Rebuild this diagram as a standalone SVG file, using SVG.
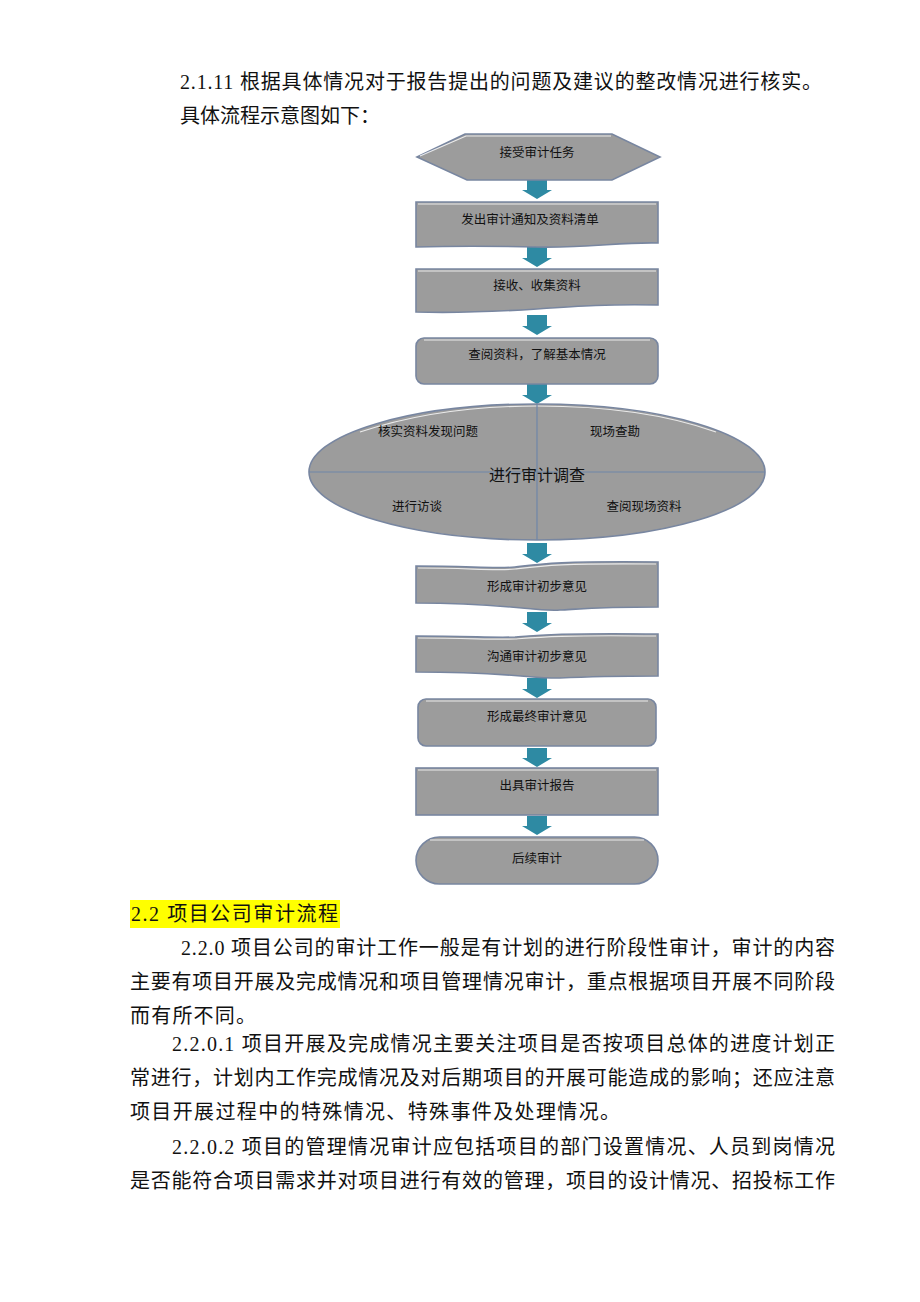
<svg xmlns="http://www.w3.org/2000/svg" width="920" height="1302" viewBox="0 0 920 1302">
<defs>
<style>
.body{font-family:"Liberation Serif","Noto Sans CJK SC",serif;font-size:20px;fill:#111}
.shape{fill:#9c9c9c;stroke:#7886a0;stroke-width:1.6}
.hl{fill:none;stroke:#ffffff;stroke-width:1.2;opacity:0.8}
.lbl{font-family:"Noto Sans CJK SC","Liberation Sans",sans-serif;font-size:12.5px;fill:#111;text-anchor:middle}
.big{font-family:"Noto Sans CJK SC","Liberation Sans",sans-serif;font-size:16px;fill:#111;text-anchor:middle}
.arrow{fill:#2e8aa3}
.axis{stroke:#6f86a8;stroke-width:1.2;fill:none}
</style>
</defs>
<rect width="920" height="1302" fill="#ffffff"/>

<g id="intro">
<text class="body" x="180" y="89" textLength="642" lengthAdjust="spacing">2.1.11 根据具体情况对于报告提出的问题及建议的整改情况进行核实。</text>
<text class="body" x="180" y="123">具体流程示意图如下：</text>
</g>

<g id="connectors">
<path class="arrow" d="M527,179 H547 V190 H552 L537,199 L522,190 H527 Z"/>
<path class="arrow" d="M527,247 H547 V258 H552 L537,267 L522,258 H527 Z"/>
<path class="arrow" d="M527,315 H547 V326 H552 L537,335 L522,326 H527 Z"/>
<path class="arrow" d="M527,384 H547 V395 H552 L537,404 L522,395 H527 Z"/>
<path class="arrow" d="M527,543 H547 V554 H552 L537,563 L522,554 H527 Z"/>
<path class="arrow" d="M527,612 H547 V623 H552 L537,632 L522,623 H527 Z"/>
<path class="arrow" d="M527,678 H547 V689 H552 L537,698 L522,689 H527 Z"/>
<path class="arrow" d="M527,748 H547 V758 H552 L537,767 L522,758 H527 Z"/>
<path class="arrow" d="M527,816 H547 V826 H552 L537,835 L522,826 H527 Z"/>
</g>

<g id="n1">
<path class="shape" d="M417,157 L465,134 H612 L660,157 L612,180 H467 Z"/>
<path class="hl" d="M420,156 L466,136 H611"/>
<text class="lbl" x="537" y="157">接受审计任务</text>
</g>

<g id="n2">
<path class="shape" d="M416,202 H658 V243 C620,242 590,248 537,247 C490,246 450,246 416,247 Z"/>
<path class="hl" d="M418,204 H656"/>
<text class="lbl" x="530" y="224">发出审计通知及资料清单</text>
</g>

<g id="n3">
<path class="shape" d="M416,269 H658 V305 C610,304 580,306 537,309 C490,312 450,313 416,312 Z"/>
<path class="hl" d="M418,271 H656"/>
<text class="lbl" x="537" y="290">接收、收集资料</text>
</g>

<g id="n4">
<rect class="shape" x="416" y="338" width="242" height="46" rx="8"/>
<path class="hl" d="M424,340 H650"/>
<text class="lbl" x="537" y="359">查阅资料，了解基本情况</text>
</g>

<g id="n5">
<ellipse class="shape" cx="537" cy="472" rx="228" ry="68"/>
<path class="hl" d="M360,432 C420,412 480,406 537,406 C600,406 660,412 716,432"/>
<line class="axis" x1="537" y1="404" x2="537" y2="540"/>
<line class="axis" x1="309" y1="472" x2="765" y2="472"/>
<text class="lbl" x="428" y="436">核实资料发现问题</text>
<text class="lbl" x="615" y="436">现场查勘</text>
<text class="big" x="537" y="481">进行审计调查</text>
<text class="lbl" x="417" y="511">进行访谈</text>
<text class="lbl" x="644" y="511">查阅现场资料</text>
</g>

<g id="n6">
<path class="shape" d="M416,566 C470,566 495,569 515,567 C540,564 560,561 658,562 V607 C600,607 580,609 560,610 C535,612 510,603 416,603 Z"/>
<path class="hl" d="M418,568 C470,568 495,571 515,569 C540,566 560,563 656,564"/>
<text class="lbl" x="537" y="591">形成审计初步意见</text>
</g>

<g id="n7">
<path class="shape" d="M416,636 C470,636 495,638 515,637 C540,635 560,633 658,634 V676 C600,676 580,677 560,678 C535,679 510,672 416,672 Z"/>
<path class="hl" d="M418,638 C470,638 495,640 515,639 C540,637 560,635 656,636"/>
<text class="lbl" x="537" y="661">沟通审计初步意见</text>
</g>

<g id="n8">
<rect class="shape" x="418" y="699" width="238" height="47" rx="8"/>
<path class="hl" d="M426,701 H648"/>
<text class="lbl" x="537" y="721">形成最终审计意见</text>
</g>

<g id="n9">
<rect class="shape" x="416" y="768" width="242" height="47"/>
<path class="hl" d="M418,770 H656"/>
<text class="lbl" x="537" y="790">出具审计报告</text>
</g>

<g id="n10">
<rect class="shape" x="416" y="837" width="242" height="47" rx="23.5"/>
<path class="hl" d="M430,840 H644"/>
<text class="lbl" x="537" y="863">后续审计</text>
</g>

<g id="section">
<rect x="130" y="900" width="210" height="28" fill="#ffff00"/>
<text class="body" x="131" y="921" textLength="207" lengthAdjust="spacing">2.2 项目公司审计流程</text>
<text class="body" x="181" y="955" textLength="654" lengthAdjust="spacing">2.2.0 项目公司的审计工作一般是有计划的进行阶段性审计，审计的内容</text>
<text class="body" x="130" y="989" textLength="705" lengthAdjust="spacing">主要有项目开展及完成情况和项目管理情况审计，重点根据项目开展不同阶段</text>
<text class="body" x="130" y="1023" textLength="126" lengthAdjust="spacing">而有所不同。</text>
<text class="body" x="172" y="1051" textLength="663" lengthAdjust="spacing">2.2.0.1 项目开展及完成情况主要关注项目是否按项目总体的进度计划正</text>
<text class="body" x="130" y="1085" textLength="705" lengthAdjust="spacing">常进行，计划内工作完成情况及对后期项目的开展可能造成的影响；还应注意</text>
<text class="body" x="130" y="1119" textLength="490" lengthAdjust="spacing">项目开展过程中的特殊情况、特殊事件及处理情况。</text>
<text class="body" x="172" y="1154" textLength="663" lengthAdjust="spacing">2.2.0.2 项目的管理情况审计应包括项目的部门设置情况、人员到岗情况</text>
<text class="body" x="130" y="1188" textLength="705" lengthAdjust="spacing">是否能符合项目需求并对项目进行有效的管理，项目的设计情况、招投标工作</text>
</g>
</svg>
